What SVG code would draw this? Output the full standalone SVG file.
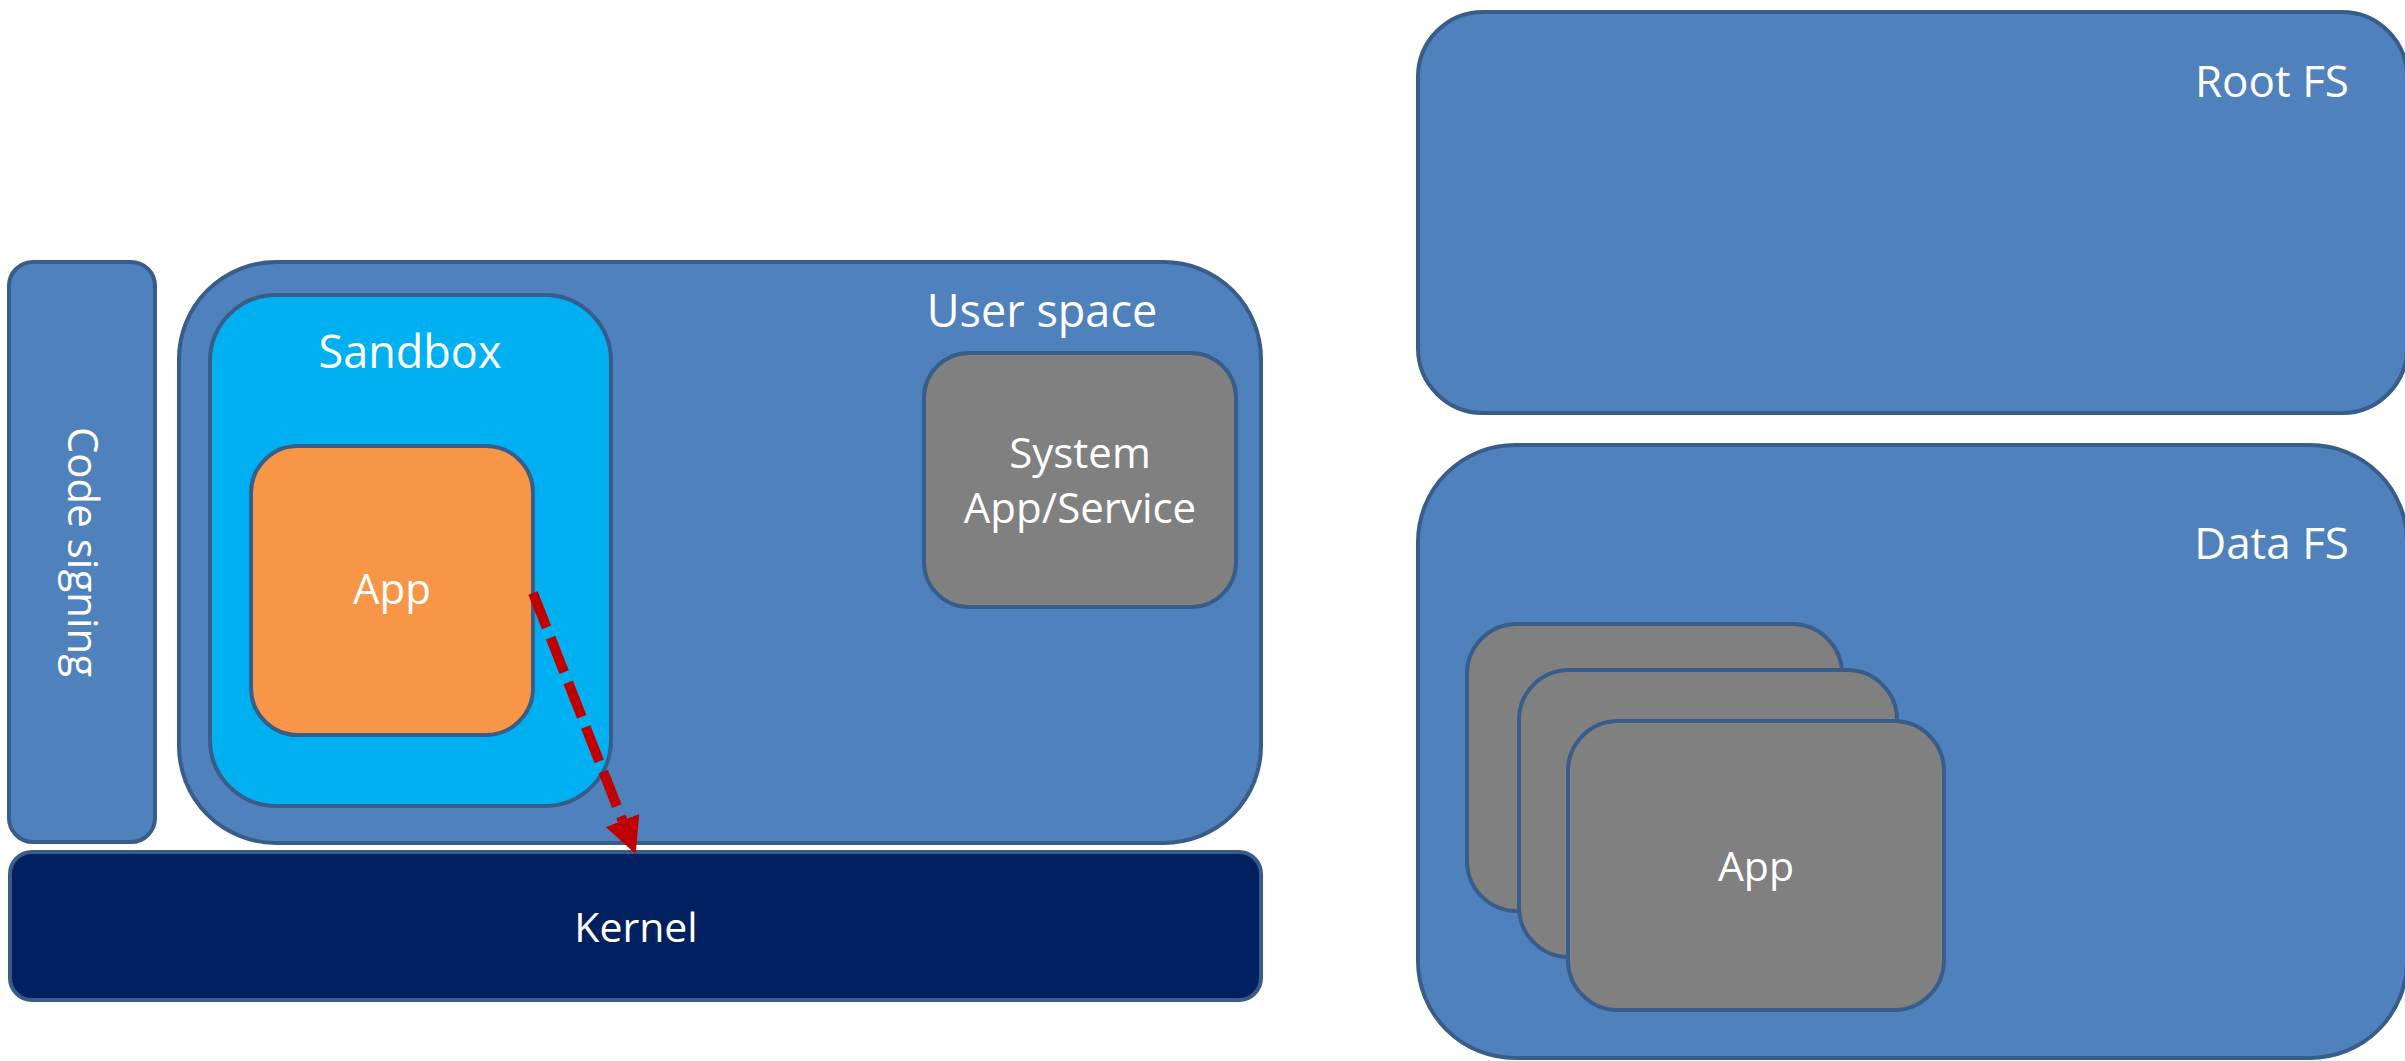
<svg xmlns="http://www.w3.org/2000/svg" width="2405" height="1061" viewBox="0 0 2405 1061">
<defs>
<style>
.box{stroke:#385D8A;stroke-width:4}
.blue{fill:#4F81BD}
.cyan{fill:#00B0F0}
.orange{fill:#F79646}
.gray{fill:#808080}
.navy{fill:#002060}
text{font-family:"Open Sans","Noto Sans","DejaVu Sans",sans-serif;fill:#FFFFFF}
.conn{stroke:#C00000;stroke-width:10;fill:none;stroke-dasharray:37 11}
</style>
<marker id="arrow" markerUnits="userSpaceOnUse" markerWidth="36" markerHeight="36" viewBox="0 0 35 35" refX="0" refY="17.5" orient="auto">
<path d="M0,0 L35,17.5 L0,35 z" fill="#C00000"/>
</marker>
</defs>
<rect width="2405" height="1061" fill="#FFFFFF"/>
<g id="code-signing">
<rect class="box blue" x="9" y="262" width="146" height="580" rx="24" ry="24"/>
<text transform="translate(68,552) rotate(90)" text-anchor="middle" font-size="42">Code signing</text>
</g>
<g id="user-space">
<rect class="box blue" x="179" y="262" width="1082" height="581" rx="97" ry="97"/>
<text x="1042" y="327" text-anchor="middle" font-size="45">User space</text>
</g>
<g id="sandbox">
<rect class="box cyan" x="210" y="295" width="401" height="511" rx="66" ry="66"/>
<text x="410" y="368" text-anchor="middle" font-size="45">Sandbox</text>
</g>
<g id="app">
<rect class="box orange" x="251" y="446" width="282" height="289" rx="47" ry="47"/>
<text x="392" y="604" text-anchor="middle" font-size="42">App</text>
</g>
<g id="system-service">
<rect class="box gray" x="924" y="353" width="312" height="254" rx="45" ry="45"/>
<text x="1080" y="468" text-anchor="middle" font-size="42">System</text>
<text x="1080" y="523" text-anchor="middle" font-size="42">App/Service</text>
</g>
<g id="kernel">
<rect class="box navy" x="10" y="852" width="1251" height="148" rx="22" ry="22"/>
<text x="636" y="942" text-anchor="middle" font-size="41">Kernel</text>
</g>
<g id="root-fs">
<rect class="box blue" x="1418" y="12" width="989" height="401" rx="65" ry="65"/>
<text x="2349" y="97" text-anchor="end" font-size="44">Root FS</text>
</g>
<g id="data-fs">
<rect class="box blue" x="1418" y="445" width="989" height="613" rx="97" ry="97"/>
<text x="2349" y="559" text-anchor="end" font-size="44">Data FS</text>
</g>
<g id="data-app-back">
<rect class="box gray" x="1467" y="624" width="375" height="287" rx="50" ry="50"/>
</g>
<g id="data-app-middle">
<rect class="box gray" x="1519" y="670" width="378" height="287" rx="50" ry="50"/>
</g>
<g id="data-app-front">
<rect class="box gray" x="1568" y="721" width="376" height="289" rx="50" ry="50"/>
<text x="1756" y="881" text-anchor="middle" font-size="41">App</text>
</g>
<g id="connectors">
<path class="conn" d="M533,593 L622.5,820.5" marker-end="url(#arrow)"/>
</g>
</svg>
